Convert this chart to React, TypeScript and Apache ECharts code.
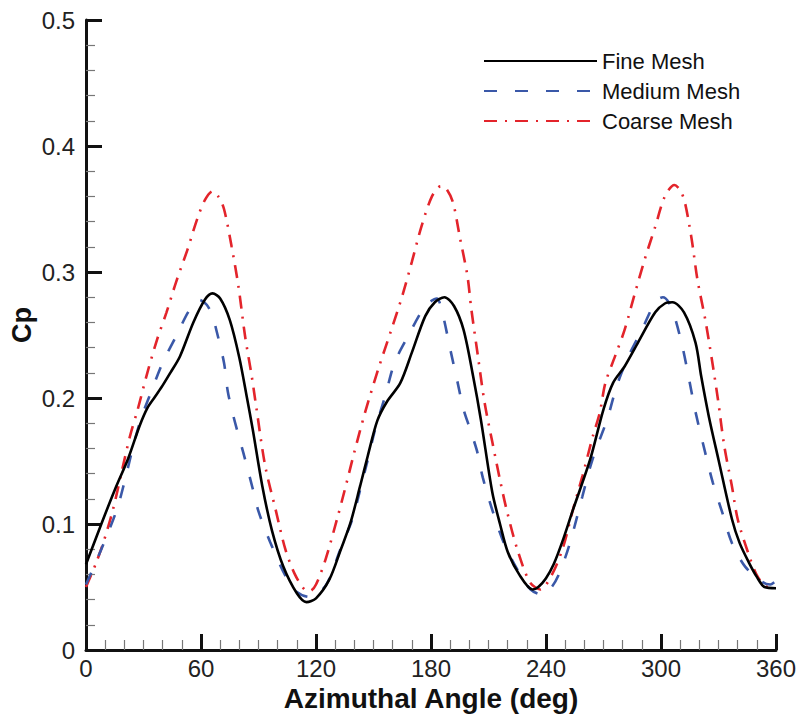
import React, { useEffect, useRef } from "react";
import * as echarts from "echarts";

const FONT = "'Liberation Sans', Arial, Helvetica, sans-serif";

const seriesNames = ["Fine Mesh", "Medium Mesh", "Coarse Mesh"];

const fineAngle = [0, 8, 15, 22, 28, 32, 36, 40, 44, 49, 56, 62, 66, 70, 75, 80, 84, 87, 92, 97, 103, 110, 115, 120, 127, 133, 138, 143, 147, 152, 157, 164, 170, 177, 182, 187, 192, 197, 202, 206, 212, 216, 220, 226, 233, 236, 240, 244, 249, 254, 263, 270, 275, 281, 288, 297, 302, 306, 312, 318, 321, 325, 330, 337, 341, 346, 350, 354, 360];
const fineCp = [0.068, 0.100, 0.127, 0.152, 0.178, 0.192, 0.201, 0.210, 0.220, 0.233, 0.260, 0.278, 0.283, 0.279, 0.262, 0.232, 0.200, 0.175, 0.130, 0.095, 0.066, 0.045, 0.038, 0.041, 0.056, 0.080, 0.101, 0.130, 0.154, 0.182, 0.197, 0.212, 0.236, 0.265, 0.276, 0.280, 0.273, 0.254, 0.217, 0.183, 0.125, 0.100, 0.078, 0.060, 0.048, 0.050, 0.057, 0.068, 0.088, 0.111, 0.151, 0.191, 0.212, 0.225, 0.244, 0.268, 0.275, 0.276, 0.268, 0.244, 0.217, 0.185, 0.151, 0.104, 0.085, 0.069, 0.058, 0.050, 0.049];

const mediumAngle = [0, 8, 16, 20, 25, 29, 33, 40, 47, 54, 59, 63, 66, 68, 72, 74, 77, 82, 87, 90, 96, 104, 110, 117, 124, 128, 132, 139, 143, 147, 151, 156, 161, 168, 177, 183, 186, 190, 193.5, 197, 200, 204, 207, 212, 218, 225, 232, 238, 243, 247, 252.5, 259, 264, 270, 272, 277, 283, 290, 297, 301, 304, 307, 311, 314, 318, 323, 327, 332, 337, 344, 353, 357, 360];
const mediumCp = [0.052, 0.080, 0.111, 0.133, 0.164, 0.185, 0.201, 0.228, 0.249, 0.270, 0.278, 0.274, 0.265, 0.254, 0.228, 0.205, 0.185, 0.157, 0.128, 0.110, 0.086, 0.059, 0.046, 0.042, 0.049, 0.060, 0.077, 0.104, 0.127, 0.151, 0.176, 0.201, 0.228, 0.249, 0.273, 0.279, 0.267, 0.239, 0.215, 0.191, 0.177, 0.158, 0.137, 0.111, 0.085, 0.064, 0.048, 0.044, 0.050, 0.061, 0.085, 0.122, 0.150, 0.175, 0.183, 0.210, 0.233, 0.254, 0.276, 0.280, 0.276, 0.265, 0.242, 0.220, 0.189, 0.157, 0.133, 0.109, 0.085, 0.066, 0.054, 0.052, 0.055];

const coarseAngle = [0, 5, 9, 14, 19, 23, 27, 32, 37, 42, 47, 53, 58, 62, 66, 69, 72, 76, 79.5, 83, 86.5, 89, 93.5, 99, 104, 109, 114, 117, 120, 125, 131, 135, 140, 145.5, 152.5, 159.5, 165, 170, 175, 180.5, 185, 188, 191.5, 195, 199, 201, 204.5, 208, 212, 216, 219.5, 225, 231.5, 237, 243.5, 249, 254, 259, 264.5, 268, 271, 276, 281, 286, 291.5, 297, 302, 307, 310, 312.5, 316, 319, 323, 326.5, 329.7, 333, 337, 340, 345.5, 350.5, 356, 360];
const coarseCp = [0.050, 0.068, 0.085, 0.111, 0.144, 0.170, 0.191, 0.220, 0.246, 0.268, 0.292, 0.318, 0.342, 0.357, 0.364, 0.360, 0.350, 0.320, 0.289, 0.249, 0.217, 0.191, 0.146, 0.111, 0.080, 0.060, 0.048, 0.047, 0.052, 0.072, 0.104, 0.127, 0.157, 0.188, 0.223, 0.255, 0.281, 0.308, 0.336, 0.360, 0.368, 0.366, 0.355, 0.328, 0.297, 0.271, 0.233, 0.196, 0.165, 0.135, 0.111, 0.080, 0.054, 0.048, 0.061, 0.082, 0.111, 0.138, 0.170, 0.188, 0.212, 0.233, 0.254, 0.281, 0.310, 0.336, 0.360, 0.369, 0.365, 0.355, 0.326, 0.294, 0.263, 0.231, 0.199, 0.162, 0.130, 0.104, 0.077, 0.058, 0.050, 0.050];

const zip = (a: number[], b: number[]) => a.map((x, i) => [x, b[i]]);

export default function App() {
  const ref = useRef<HTMLDivElement>(null);
  useEffect(() => {
    document.body.style.margin = "0";
    const chart = echarts.init(ref.current!, null, { renderer: "svg" });
    const lineSeries = (name: string, data: number[][], color: string, type: any, z: number) => ({
      name,
      type: "line",
      data,
      symbol: "none",
      showSymbol: false,
      smooth: 0.3,
      z,
      itemStyle: { color },
      lineStyle: { color, width: 2.6, type, cap: "butt" },
    });
    chart.setOption({
      animation: false,
      backgroundColor: "#ffffff",
      grid: { left: 86, right: 23, top: 20, bottom: 65, outerBoundsMode: "none" },
      legend: {
        orient: "vertical",
        left: 478,
        top: 45,
        itemWidth: 113,
        itemHeight: 14,
        itemGap: 8,
        data: seriesNames,
        itemStyle: { opacity: 0, borderWidth: 0 },
        textStyle: { fontSize: 22, color: "#111", fontFamily: FONT, lineHeight: 22 },
      },
      xAxis: {
        type: "value",
        min: 0,
        max: 360,
        interval: 60,
        name: "Azimuthal Angle (deg)",
        nameLocation: "middle",
        nameGap: 34,
        nameTextStyle: { fontSize: 28, fontWeight: "bold", color: "#111", fontFamily: FONT, lineHeight: 28 },
        axisLine: { show: true, onZero: false, lineStyle: { color: "#111", width: 3 } },
        axisTick: { show: true, inside: true, length: 16, lineStyle: { color: "#111", width: 3 } },
        minorTick: { show: true, splitNumber: 6, length: 10, lineStyle: { color: "#777", width: 1.2 } },
        splitLine: { show: false },
        axisLabel: { margin: 6, fontSize: 24, color: "#222", fontFamily: FONT, showMaxLabel: true, showMinLabel: true },
      },
      yAxis: {
        type: "value",
        min: 0,
        max: 0.5,
        interval: 0.1,
        axisLine: { show: true, onZero: false, lineStyle: { color: "#111", width: 3 } },
        axisTick: { show: true, inside: true, length: 16, lineStyle: { color: "#111", width: 3 } },
        minorTick: { show: true, splitNumber: 5, length: 9, lineStyle: { color: "#777", width: 1.2 } },
        splitLine: { show: false },
        axisLabel: { margin: 11, fontSize: 24, color: "#222", fontFamily: FONT },
      },
      graphic: [
        {
          type: "text",
          x: 22,
          y: 325,
          rotation: Math.PI / 2,
          style: {
            text: "Cp",
            fontSize: 27,
            fontWeight: "bold",
            fontFamily: FONT,
            fill: "#111",
            align: "center",
            verticalAlign: "middle",
          },
        },
      ],
      series: [
        lineSeries("Coarse Mesh", zip(coarseAngle, coarseCp), "#e3242b", [13, 8, 2, 8], 2),
        lineSeries("Medium Mesh", zip(mediumAngle, mediumCp), "#3a58a8", [13, 18], 3),
        lineSeries("Fine Mesh", zip(fineAngle, fineCp), "#000000", "solid", 4),
      ],
    });
    return () => chart.dispose();
  }, []);
  return <div ref={ref} style={{ width: 799, height: 715 }} />;
}
